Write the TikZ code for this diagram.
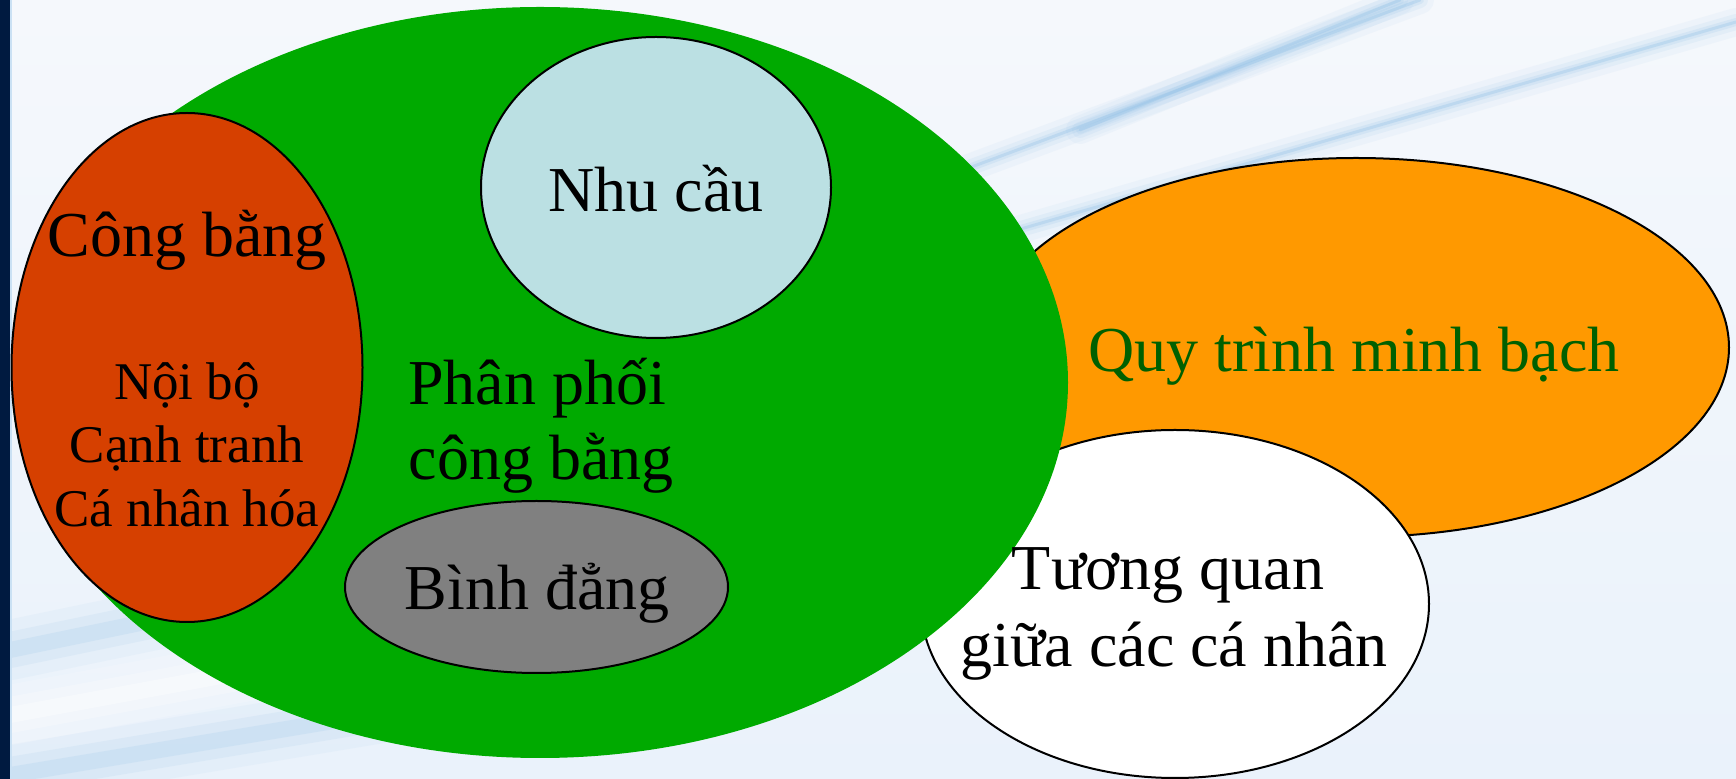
\documentclass[tikz,border=0pt]{standalone}
\usepackage{fontspec}
\setmainfont{Liberation Serif}
\usetikzlibrary{shapes.geometric}
\definecolor{bgtop}{RGB}{245,248,252}
\definecolor{bgbot}{RGB}{234,242,251}
\definecolor{navy}{RGB}{0,26,64}
\definecolor{streak}{RGB}{150,195,232}
\definecolor{greenA}{RGB}{0,170,0}
\definecolor{redA}{RGB}{214,64,0}
\definecolor{blueA}{RGB}{187,224,227}
\definecolor{grayA}{RGB}{128,128,128}
\definecolor{orangeA}{RGB}{255,153,0}
\definecolor{darkgreenA}{RGB}{0,96,0}
\begin{document}
\begin{tikzpicture}[x=0.5pt,y=-0.5pt,
  blob/.style={ellipse, inner sep=0pt, outer sep=0pt, draw=black, line width=1pt},
  bigtext/.style={font=\fontsize{32}{38}\selectfont, anchor=base, inner sep=0pt},
  smalltext/.style={font=\fontsize{26.5}{32}\selectfont, anchor=base, inner sep=0pt},
  streakline/.style={line cap=round, draw=streak}
]
\useasboundingbox (0,0) rectangle (1736,779);
% background
\shade[top color=bgtop, bottom color=bgbot] (0,0) rectangle (1736,779);
% soft streaks, top right
\foreach \w/\o in {14/0.08, 8/0.12, 4/0.18, 1.5/0.35}{
  \draw[streakline, line width=\w pt, opacity=\o] (1000,235) -- (1736,22);
  \draw[streakline, line width=\w pt, opacity=\o] (950,175) -- (1420,0);
  \draw[streakline, line width=\w pt, opacity=\o] (1080,130) -- (1400,0);
}
% soft bands, bottom left
\foreach \w/\o in {30/0.08, 18/0.12, 8/0.18}{
  \draw[streakline, line width=\w pt, opacity=\o] (10,650) -- (420,565);
  \draw[streakline, line width=\w pt, opacity=\o] (10,775) -- (520,690);
  \draw[white, line cap=round, line width=\w pt, opacity=2*\o] (10,715) -- (470,630);
}
\fill[navy] (0,0) rectangle (10,779);
\fill[streak!50!white] (10,0) rectangle (11.5,779);
% shapes
\node[blob, fill=orangeA, minimum width=373pt, minimum height=189.5pt] (quytrinh) at (1356,347.5) {};
\node[blob, fill=white, minimum width=254pt, minimum height=174pt] (tuongquan) at (1175,604) {};
\node[ellipse, inner sep=0pt, fill=greenA, minimum width=528pt, minimum height=375.5pt] (phanphoi) at (540,382.5) {};
\node[blob, fill=redA, minimum width=175.5pt, minimum height=254.5pt] (congbang) at (187,367.5) {};
\node[blob, fill=blueA, minimum width=175pt, minimum height=150.5pt] (nhucau) at (656,187.5) {};
\node[blob, fill=grayA, minimum width=191.5pt, minimum height=86pt] (binhdang) at (536.5,587) {};
% texts
\node[bigtext] (tnhucau) at (656,212) {Nhu cầu};
\node[bigtext] (tcongbang) at (187,257) {Công bằng};
\node[smalltext] (tnoibo) at (187,400) {Nội bộ};
\node[smalltext] (tcanhtranh) at (187,463) {Cạnh tranh};
\node[smalltext] (tcanhan) at (187,527) {Cá nhân hóa};
\node[bigtext] (tphanphoi1) at (537,405) {Phân phối};
\node[bigtext] (tphanphoi2) at (541,480) {công bằng};
\node[bigtext] (tbinhdang) at (537,610) {Bình đẳng};
\node[bigtext, text=darkgreenA] (tquytrinh) at (1354,372) {Quy trình minh bạch};
\node[bigtext] (ttuong1) at (1168,590) {Tương quan};
\node[bigtext] (ttuong2) at (1174,667) {giữa các cá nhân};
\end{tikzpicture}
\end{document}
